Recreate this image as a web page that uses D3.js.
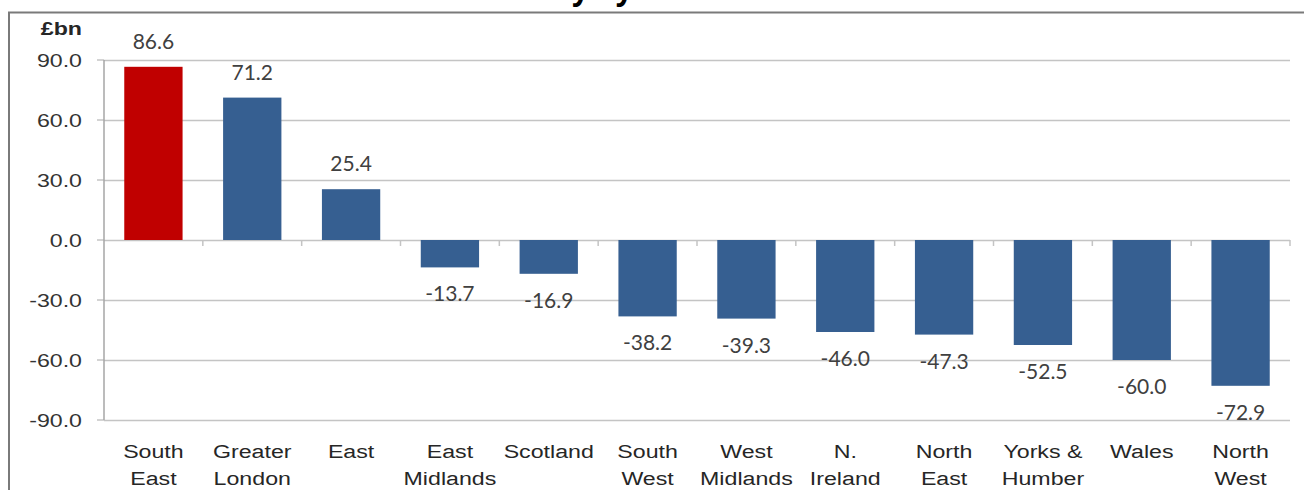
<!DOCTYPE html>
<html>
<head>
<meta charset="utf-8">
<script src="https://cdn.jsdelivr.net/npm/d3@7"></script>
<style>
    html, body { margin: 0; padding: 0; background: #ffffff; }
    svg { display: block; }
</style>
</head>
<body>
<svg id="chart"></svg>
<script>
/* =========================================================
   Data
   ========================================================= */

const REGIONS = [
    ["South", "East"],
    ["Greater", "London"],
    ["East"],
    ["East", "Midlands"],
    ["Scotland"],
    ["South", "West"],
    ["West", "Midlands"],
    ["N.", "Ireland"],
    ["North", "East"],
    ["Yorks &", "Humber"],
    ["Wales"],
    ["North", "West"]
];

const VALUES = [86.6, 71.2, 25.4, -13.7, -16.9, -38.2, -39.3, -46.0, -47.3, -52.5, -60.0, -72.9];

const HIGHLIGHT = ["South East"];

const Y_TICKS = [-90, -60, -30, 0, 30, 60, 90];

const UNIT_LABEL = "£bn";
const TITLE = "Net fiscal contribution to the Treasury by area";

/* =========================================================
   Layout
   ========================================================= */

const WIDTH = 1304;
const HEIGHT = 490;
const PLOT = { left: 104, right: 1290, top: 60, bottom: 420 };

const BLUE = "#365f91";
const RED  = "#c00000";
const GRID = "#c4c4c4";
const TEXT_SCALE_X = 1.22;   // the source picture is stretched sideways

// plain hyphen for negatives, like the source
const fmt = d3.formatLocale({
    decimal: ".", thousands: ",", grouping: [3], currency: ["£", ""], minus: "-"
}).format(".1f");

const svg = d3.select("#chart")
    .attr("width", WIDTH)
    .attr("height", HEIGHT);

const names = REGIONS.map(r => r.join(" "));

const x = d3.scaleBand()
    .domain(names)
    .range([PLOT.left, PLOT.right])
    .paddingInner(0.41)
    .paddingOuter(0.205);

const y = d3.scaleLinear()
    .domain([-90, 90])
    .range([PLOT.bottom, PLOT.top]);

/* =========================================================
   Frame and title (title is cut off at the top edge)
   ========================================================= */

svg.append("path")
    .attr("d", `M9,${HEIGHT}V12.5H${WIDTH}`)
    .attr("fill", "none")
    .attr("stroke", "#7a7a7a")
    .attr("stroke-width", 2);

const title = svg.append("text")
    .attr("x", 0)
    .attr("y", 0)
    .attr("font-family", "'Open Sans', sans-serif")
    .attr("font-weight", 700)
    .attr("font-size", 30)
    .attr("fill", "#000000")
    .text(TITLE);

// line the "y" of "Treasury" up with the visible descender
const yIndex = TITLE.indexOf("Treasury") + 7;
const yPos = title.node().getStartPositionOfChar(yIndex).x;
title.attr("x", 572 - yPos);

/* =========================================================
   Grid and axes
   ========================================================= */

const grid = svg.append("g")
    .attr("transform", `translate(${PLOT.left},0)`)
    .call(d3.axisLeft(y)
        .tickValues(Y_TICKS)
        .tickSize(-(PLOT.right - PLOT.left))
        .tickFormat(""));

grid.select(".domain").remove();
grid.selectAll(".tick line")
    .attr("stroke", GRID)
    .attr("stroke-width", 1.5);

// short outer ticks left of the axis
svg.append("g")
    .selectAll("line")
    .data(Y_TICKS)
    .join("line")
    .attr("x1", PLOT.left - 7)
    .attr("x2", PLOT.left)
    .attr("y1", d => y(d))
    .attr("y2", d => y(d))
    .attr("stroke", GRID)
    .attr("stroke-width", 1.5);

svg.append("line")
    .attr("x1", PLOT.left)
    .attr("x2", PLOT.left)
    .attr("y1", y(90))
    .attr("y2", y(-90))
    .attr("stroke", "#a6a6a6")
    .attr("stroke-width", 1.5);

svg.append("g")
    .selectAll("text")
    .data(Y_TICKS)
    .join("text")
    .attr("transform", d => `translate(82,${y(d) + 7}) scale(${TEXT_SCALE_X},1)`)
    .attr("text-anchor", "end")
    .attr("font-family", "'Liberation Sans', Arial, sans-serif")
    .attr("font-size", 19)
    .attr("fill", "#333333")
    .text(d => fmt(d));

svg.append("text")
    .attr("transform", `translate(82,35) scale(${TEXT_SCALE_X},1)`)
    .attr("text-anchor", "end")
    .attr("font-family", "'Liberation Sans', Arial, sans-serif")
    .attr("font-weight", 700)
    .attr("font-size", 19)
    .attr("fill", "#262626")
    .text(UNIT_LABEL);

/* =========================================================
   Bars
   ========================================================= */

svg.append("g")
    .selectAll("rect")
    .data(VALUES)
    .join("rect")
    .attr("x", (_, i) => x(names[i]))
    .attr("y", v => y(Math.max(0, v)))
    .attr("width", x.bandwidth())
    .attr("height", v => Math.abs(y(v) - y(0)))
    .attr("fill", (_, i) => HIGHLIGHT.includes(names[i]) ? RED : BLUE);

// category axis on the zero line, ticks between bars
const step = x.step();
const boundaries = d3.range(1, names.length + 1).map(k => PLOT.left + k * step);

svg.append("g")
    .selectAll("line")
    .data(boundaries)
    .join("line")
    .attr("x1", d => d)
    .attr("x2", d => d)
    .attr("y1", y(0))
    .attr("y2", y(0) + 6)
    .attr("stroke", GRID)
    .attr("stroke-width", 1.5);

/* =========================================================
   Data labels
   ========================================================= */

svg.append("g")
    .selectAll("text")
    .data(VALUES)
    .join("text")
    .attr("x", (_, i) => x(names[i]) + x.bandwidth() / 2)
    .attr("y", v => v >= 0 ? y(v) - 18 : y(v) + 34)
    .attr("text-anchor", "middle")
    .attr("font-family", "Lato, 'Open Sans', sans-serif")
    .attr("font-size", 21)
    .attr("fill", "#404040")
    .text(v => fmt(v));

/* =========================================================
   Category labels
   ========================================================= */

const cats = svg.append("g")
    .selectAll("text")
    .data(REGIONS)
    .join("text")
    .attr("transform", (_, i) =>
        `translate(${x(names[i]) + x.bandwidth() / 2},458) scale(${TEXT_SCALE_X},1)`)
    .attr("text-anchor", "middle")
    .attr("font-family", "'Liberation Sans', Arial, sans-serif")
    .attr("font-size", 19)
    .attr("fill", "#262626");

cats.selectAll("tspan")
    .data(d => d)
    .join("tspan")
    .attr("x", 0)
    .attr("y", (_, j) => j * 27)
    .text(d => d);
</script>
</body>
</html>
